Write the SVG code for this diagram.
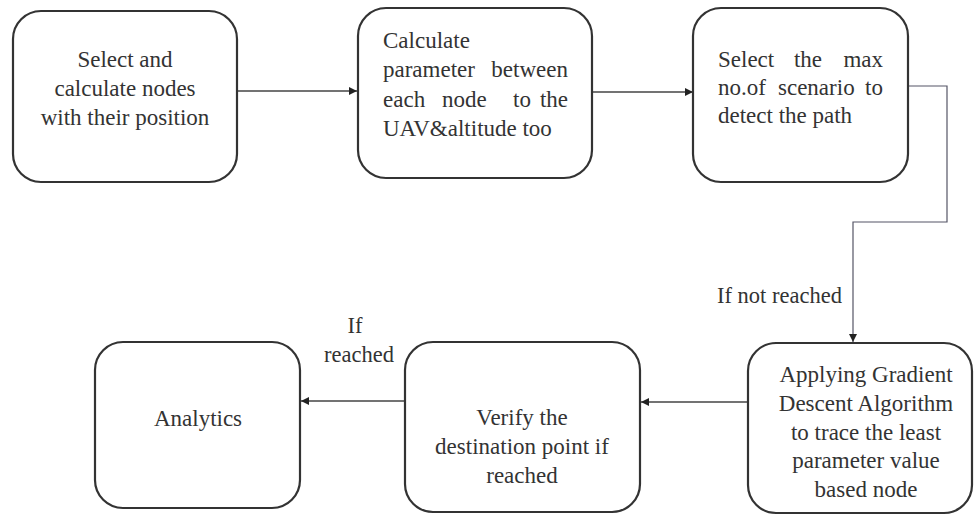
<svg xmlns="http://www.w3.org/2000/svg" width="975" height="516" viewBox="0 0 975 516" font-family="Liberation Serif, DejaVu Serif, serif">
<style>
.box{fill:#fff;stroke:#333;stroke-width:2.2}
.t{font-size:23px;fill:#333}
.s{font-size:22.5px}
.c{text-anchor:middle}
.e{text-anchor:end}
.conn{fill:none;stroke:#444;stroke-width:1.5}
.thin{fill:none;stroke:#556;stroke-width:1.2}
</style>
<defs>
<marker id="arr" viewBox="0 0 10 10" refX="10" refY="5" markerWidth="8" markerHeight="8" markerUnits="userSpaceOnUse" orient="auto">
<path d="M0,0 L10,5 L0,10 z" fill="#222"/>
</marker>
</defs>
<rect width="975" height="516" fill="#fff"/>
<g id="connectors">
<line class="conn" x1="237" y1="91" x2="357" y2="91" marker-end="url(#arr)"/>
<line class="conn" x1="592" y1="92" x2="693" y2="92" marker-end="url(#arr)"/>
<polyline class="thin" points="908,86 947,86 947,222 853,222 853,342" marker-end="url(#arr)"/>
<line class="conn" x1="748" y1="402" x2="641" y2="402" marker-end="url(#arr)"/>
<line class="conn" x1="405" y1="401" x2="301" y2="401" marker-end="url(#arr)"/>
<text class="t s" x="717" y="303">If not reached</text>
<text class="t s c" x="355" y="333">If</text>
<text class="t s c" x="359" y="362">reached</text>
</g>
<g id="n1">
<rect class="box" x="13" y="11" width="224" height="171" rx="28"/>
<text class="t c" x="125" y="67">Select and</text>
<text class="t c" x="125" y="96">calculate nodes</text>
<text class="t c" x="125" y="125">with their position</text>
</g>
<g id="n2">
<rect class="box" x="358" y="8" width="234" height="170" rx="28"/>
<text class="t" x="383" y="48">Calculate</text>
<text class="t" x="383" y="77">parameter</text>
<text class="t e" x="568" y="77">between</text>
<text class="t" x="383" y="107">each</text>
<text class="t" x="442" y="107">node</text>
<text class="t" x="513" y="107">to</text>
<text class="t e" x="568" y="107">the</text>
<text class="t" x="383" y="136">UAV&amp;altitude too</text>
</g>
<g id="n3">
<rect class="box" x="693" y="8" width="215" height="174" rx="28"/>
<text class="t" x="718" y="67">Select</text>
<text class="t c" x="808" y="67">the</text>
<text class="t e" x="883" y="67">max</text>
<text class="t" x="718" y="95">no.of</text>
<text class="t" x="778" y="95">scenario</text>
<text class="t e" x="883" y="95">to</text>
<text class="t" x="718" y="123">detect the path</text>
</g>
<g id="n4">
<rect class="box" x="748" y="343" width="224" height="170" rx="28"/>
<text class="t c" x="866" y="382">Applying Gradient</text>
<text class="t c" x="866" y="411">Descent Algorithm</text>
<text class="t c" x="866" y="440">to trace the least</text>
<text class="t c" x="866" y="468">parameter value</text>
<text class="t c" x="866" y="497">based node</text>
</g>
<g id="n5">
<rect class="box" x="405" y="342" width="235" height="170" rx="28"/>
<text class="t c" x="522" y="425">Verify the</text>
<text class="t c" x="522" y="454">destination point if</text>
<text class="t c" x="522" y="483">reached</text>
</g>
<g id="n6">
<rect class="box" x="95" y="342" width="205" height="166" rx="28"/>
<text class="t c" x="198" y="426">Analytics</text>
</g>
</svg>
